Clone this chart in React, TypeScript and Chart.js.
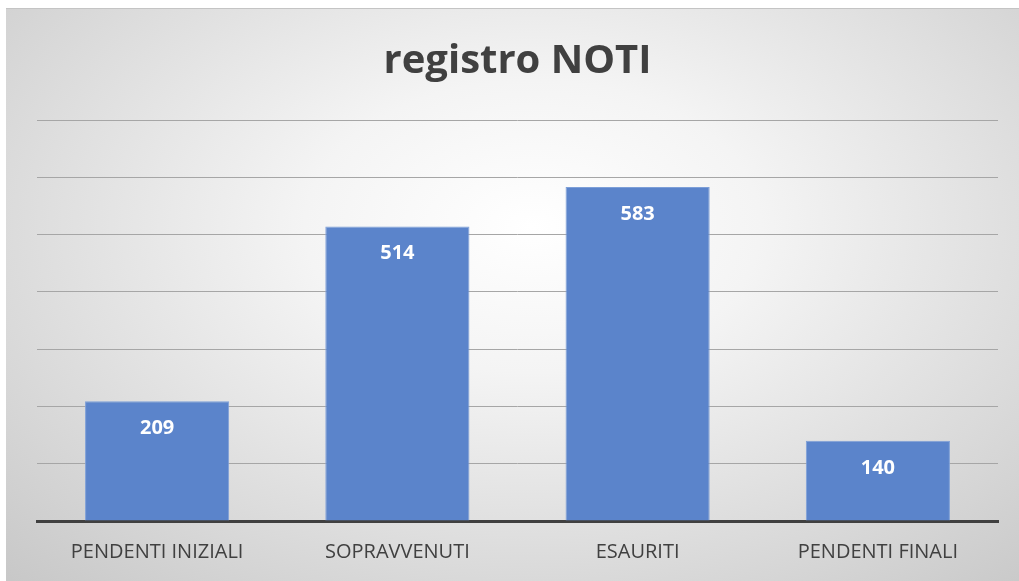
import React, { useEffect, useRef } from "react";
import { Chart, registerables } from "chart.js";

Chart.register(...registerables);

const categories = ["PENDENTI INIZIALI", "SOPRAVVENUTI", "ESAURITI", "PENDENTI FINALI"];
const values = [209, 514, 583, 140];
const titleText = "registro NOTI";

const FONT = "'Open Sans', 'Noto Sans', sans-serif";

const valueLabels = {
  id: "valueLabels",
  afterDatasetsDraw(chart: any) {
    const ctx = chart.ctx;
    const meta = chart.getDatasetMeta(0);
    ctx.save();
    ctx.fillStyle = "#ffffff";
    ctx.font = `bold 20px ${FONT}`;
    ctx.textAlign = "center";
    ctx.textBaseline = "middle";
    meta.data.forEach((bar: any, i: number) => {
      ctx.fillText(String(values[i]), bar.x, bar.y + 27);
    });
    ctx.restore();
  },
};

export default function App() {
  const ref = useRef<HTMLCanvasElement>(null);
  useEffect(() => {
    document.body.style.margin = "0";
    const chart = new Chart(ref.current!, {
      type: "bar",
      data: {
        labels: categories,
        datasets: [
          {
            data: values,
            backgroundColor: "#5b84cb",
            borderColor: "#7d9fd8",
            borderWidth: 1,
            barPercentage: 0.6,
            categoryPercentage: 1,
          },
        ],
      },
      options: {
        animation: false,
        responsive: false,
        layout: { padding: { left: 31, right: 21, top: 0, bottom: 6 } },
        plugins: {
          legend: { display: false },
          tooltip: { enabled: false },
          title: {
            display: true,
            text: titleText,
            color: "#404040",
            font: { family: FONT, size: 40, weight: "bold" },
            padding: { top: 29, bottom: 34 },
          },
        },
        scales: {
          x: {
            grid: { display: false },
            border: { display: true, color: "#404040", width: 3 },
            ticks: {
              color: "#404040",
              font: { family: FONT, size: 20 },
              padding: 11,
            },
          },
          y: {
            min: 0,
            max: 700,
            ticks: { display: false, stepSize: 100 },
            grid: { color: "#a6a6a6", lineWidth: 1, drawTicks: false },
            border: { display: false },
          },
        },
      },
      plugins: [valueLabels],
    });
    return () => chart.destroy();
  }, []);
  return (
    <div
      style={{
        position: "absolute",
        left: 6,
        top: 8,
        width: 1013,
        height: 573,
        borderTop: "1px solid #c4c4c4",
        boxSizing: "border-box",
        background:
          "radial-gradient(ellipse 75% 85% at 52% 38%, #ffffff 0%, #f4f4f4 30%, #dedede 65%, #c8c8c8 100%)",
      }}
    >
      <canvas ref={ref} width={1013} height={572} style={{ display: "block" }} />
    </div>
  );
}
